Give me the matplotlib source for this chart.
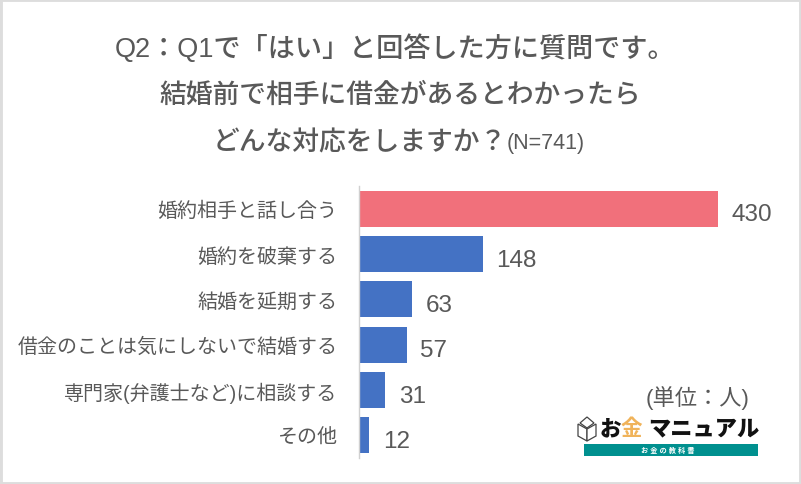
import matplotlib
matplotlib.use("Agg")
import matplotlib.pyplot as plt
from matplotlib.patches import Rectangle, Polygon

plt.rcParams['font.family'] = ['Liberation Sans', 'Noto Sans CJK JP']

categories = ["婚約相手と話し合う", "婚約を破棄する", "結婚を延期する",
              "借金のことは気にしないで結婚する", "専門家(弁護士など)に相談する", "その他"]
values = [430, 148, 63, 57, 31, 12]
bar_colors = ["#F1707B", "#4472C4", "#4472C4", "#4472C4", "#4472C4", "#4472C4"]
title_lines = ["Q2：Q1で「はい」と回答した方に質問です。",
               "結婚前で相手に借金があるとわかったら",
               "どんな対応をしますか？"]

W, H = 801, 485
text_col = "#595959"

fig = plt.figure(figsize=(W / 100, H / 100), dpi=100, facecolor="white")

# pixel helper for things placed on the figure
def fx(x):
    return x / W
def fy(y):
    return 1 - y / H

# grey frame of the screenshot
fig.patches.append(Rectangle((0, 0), 1, 1, transform=fig.transFigure, fill=False,
                             ec="#DDDDDD", lw=3.5))

ax = fig.add_axes([fx(359), fy(459), 359 / W, 272 / H])
ypos = list(range(len(values)))
ax.barh(ypos, values, height=0.79, color=bar_colors)
ax.set_xlim(0, 430)
ax.set_ylim(len(values) - 0.5, -0.5)
ax.set_yticks(ypos)
ax.set_yticklabels(categories, fontsize=14.4, color=text_col)
ax.tick_params(axis="y", length=0, pad=15.5)
ax.set_xticks([])
for s in ["top", "right", "bottom"]:
    ax.spines[s].set_visible(False)
ax.spines["left"].set_color("#D0D0D0")
ax.spines["left"].set_linewidth(1.0)
for i, v in enumerate(values):
    ax.annotate(str(v), (v, i), xytext=(10, -4), textcoords="offset points",
                va="center", ha="left", fontsize=17.5, color=text_col,
                annotation_clip=False)

# title
fig.text(fx(395), fy(49), title_lines[0], ha="center", va="center", fontsize=19.5,
         color=text_col, fontweight="medium")
fig.text(fx(400), fy(96), title_lines[1], ha="center", va="center", fontsize=19.3,
         color=text_col, fontweight="medium")
fig.text(fx(213), fy(143), title_lines[2], ha="left", va="center", fontsize=19.3,
         color=text_col, fontweight="medium")
fig.text(fx(507), fy(143), "(N=741)", ha="left", va="center", fontsize=15.5, color=text_col)

# unit and logo
fig.text(fx(698), fy(398), "(単位：人)", ha="center", va="center", fontsize=16, color=text_col)
fig.text(fx(600), fy(430), "お", ha="left", va="center", fontsize=15.5, color="#111111",
         fontweight="black")
fig.text(fx(621), fy(430), "金", ha="left", va="center", fontsize=15.5, color="#F0B35A",
         fontweight="bold")
fig.text(fx(648), fy(430), "マニュアル", ha="left", va="center", fontsize=16, color="#111111",
         fontweight="black", style="italic")
fig.patches.append(Rectangle((fx(584), fy(457)), 174 / W, 12 / H, transform=fig.transFigure,
                             fc="#00908F", ec="none"))
fig.text(fx(668), fy(451), "お 金 の 教 科 書", ha="center", va="center", fontsize=5.2, color="white",
         fontweight="bold")

# little book icon of the logo
book = [[(578, 425), (587, 430), (587, 442), (578, 437)],
        [(587, 430), (596, 425), (596, 437), (587, 442)],
        [(580, 424), (587, 418), (594, 424), (587, 429)]]
for pts in book:
    fig.patches.append(Polygon([(fx(a), fy(b)) for a, b in pts], closed=True,
                               transform=fig.transFigure, fc="white", ec="#444444", lw=0.9))

fig.savefig("out.png", dpi=100)
